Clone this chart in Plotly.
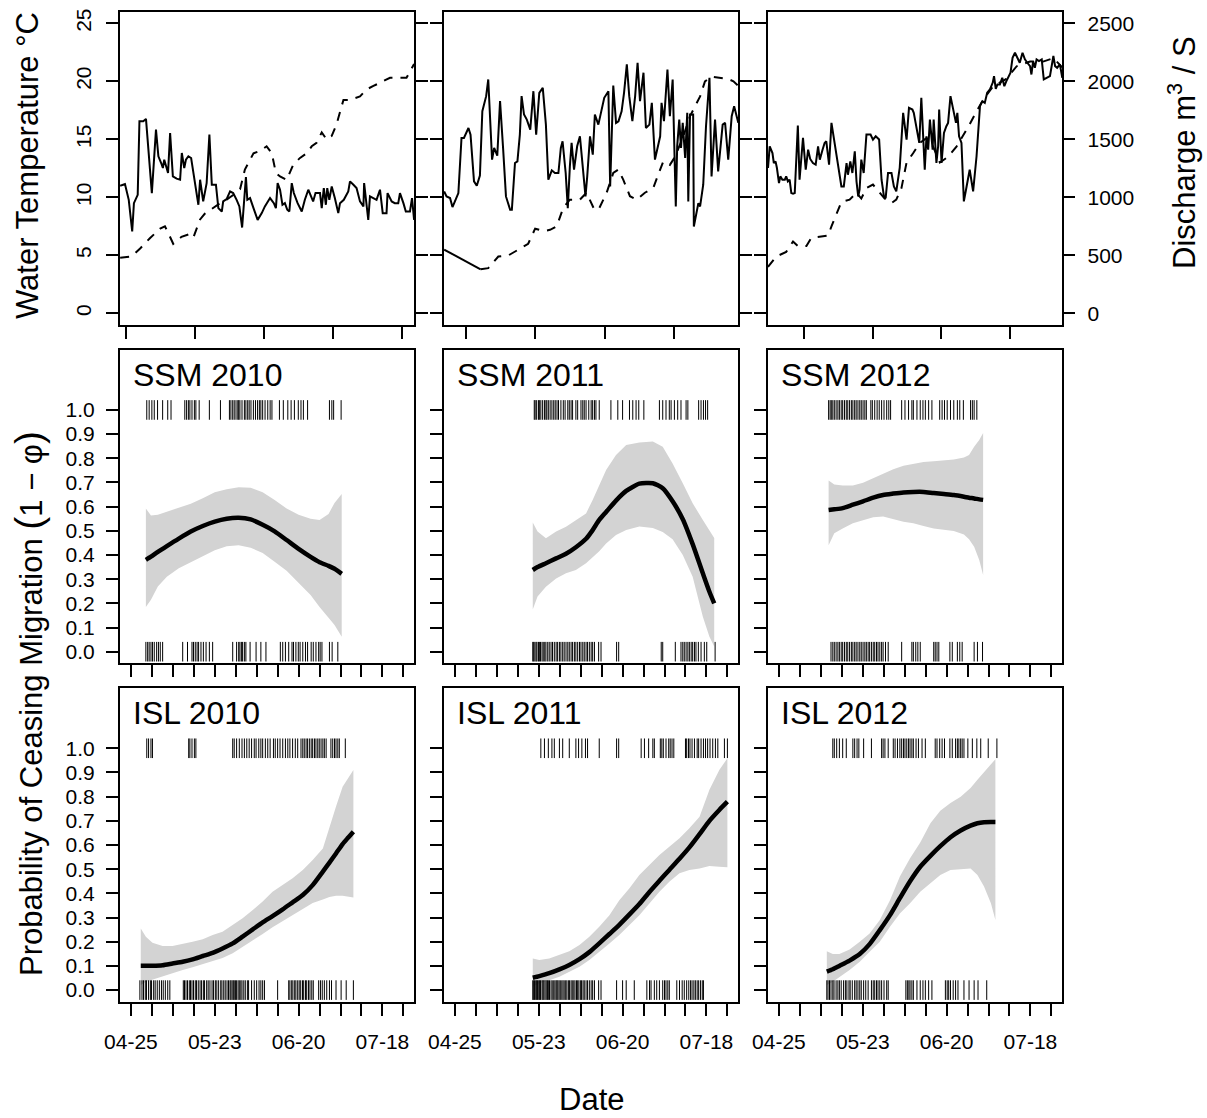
import plotly.graph_objects as go

# ------------------------------------------------------------------ data
# Top row: (day of year, value) pairs
temp_2010 = [(118.3, 4.8), (121.6, 4.9), (124.1, 5.6), (127.0, 6.5), (129.9, 7.3), (131.3, 7.5),
             (132.3, 6.9), (133.7, 6.0), (136.1, 6.6), (138.1, 6.8), (139.5, 6.5), (141.5, 8.1),
             (142.9, 8.6), (145.3, 9.1), (147.3, 9.5), (149.2, 9.8), (151.1, 10.2), (153.1, 10.7),
             (154.5, 12.4), (157.0, 13.8), (158.9, 14.0), (160.8, 14.4), (162.3, 13.8), (163.5, 12.1),
             (164.7, 11.8), (166.6, 11.5), (168.5, 12.8), (170.5, 13.4), (172.4, 13.8), (173.9, 14.4),
             (175.3, 14.7), (176.8, 15.6), (178.2, 15.0), (179.7, 15.3), (181.1, 16.3), (183.1, 18.4),
             (185.0, 18.4), (187.9, 18.7), (189.8, 19.3), (191.8, 19.6), (194.7, 20.0), (196.6, 20.3),
             (199.5, 20.3), (201.4, 20.3), (203.6, 21.5)]
flow_2010 = [(118.3, 1100), (119.7, 1115), (120.8, 979), (121.8, 706), (122.3, 950), (123.4, 1022),
             (123.9, 1656), (125.0, 1656), (125.8, 1676), (127.5, 1037), (128.7, 1584), (129.4, 1354),
             (130.2, 1296), (130.7, 1253), (131.1, 1325), (131.6, 1267), (132.2, 1210), (132.8, 1555),
             (133.6, 1181), (134.7, 1161), (135.7, 1152), (136.2, 1382), (136.9, 1253), (137.4, 1325),
             (138.1, 1354), (138.9, 1339), (139.8, 1152), (141.0, 936), (141.5, 1152), (142.4, 965),
             (143.4, 1123), (144.2, 1541), (144.9, 1109), (146.1, 1109), (146.8, 907), (147.8, 878),
             (148.2, 965), (149.2, 985), (150.2, 1051), (151.1, 1037), (152.1, 979), (152.9, 922),
             (153.7, 740), (154.8, 1175), (155.2, 979), (156.0, 994), (157.0, 907), (158.2, 806),
             (159.4, 864), (160.3, 922), (161.8, 994), (162.9, 950), (163.5, 907), (164.0, 1123),
             (164.7, 1066), (165.4, 936), (166.1, 950), (166.8, 893), (167.4, 878), (168.1, 1123),
             (168.7, 1037), (169.8, 950), (171.0, 878), (171.9, 979), (172.9, 1066), (173.6, 1022),
             (174.3, 965), (175.0, 1037), (176.3, 1037), (176.8, 907), (177.4, 1080), (178.0, 936),
             (178.4, 1080), (179.0, 979), (179.7, 1094), (180.6, 994), (181.6, 864), (182.1, 950),
             (183.2, 979), (184.5, 1051), (185.0, 1138), (186.0, 1109), (186.9, 1080), (187.9, 965),
             (188.9, 922), (189.1, 1123), (189.8, 922), (190.3, 806), (190.8, 1008), (191.8, 994),
             (192.7, 979), (193.7, 1066), (194.5, 864), (195.6, 864), (195.9, 1037), (197.1, 965),
             (198.0, 950), (199.0, 950), (199.5, 1037), (200.5, 950), (201.2, 878), (202.4, 878),
             (203.0, 994), (203.6, 806)]
temp_2011 = [(133.8, 5.5), (144.3, 3.8), (146.5, 3.9), (149.4, 4.9), (152.3, 5.0), (155.2, 5.5),
             (158.0, 6.0), (160.0, 7.3), (162.4, 7.1), (164.3, 7.2), (166.2, 7.5), (168.1, 9.1),
             (170.0, 9.8), (172.9, 9.8), (174.8, 10.4), (176.8, 9.1), (178.2, 8.9), (180.6, 10.4),
             (182.5, 12.1), (184.0, 12.4), (185.4, 11.5), (187.3, 10.1), (189.2, 9.8), (191.6, 10.4),
             (194.0, 10.8), (195.5, 12.0), (196.9, 13.1), (198.8, 12.8), (200.3, 13.5), (202.7, 15.3),
             (204.6, 17.0), (207.5, 18.7), (208.9, 20.0), (210.8, 20.4), (213.2, 20.3), (215.6, 20.2),
             (217.1, 20.0), (218.5, 19.6)]
flow_2011 = [(133.8, 1051), (134.5, 1008), (135.5, 994), (136.2, 916), (136.9, 965), (137.9, 1037),
             (138.8, 1512), (139.5, 1512), (140.8, 1598), (141.4, 1541), (142.4, 1138), (143.2, 1100),
             (144.1, 1187), (144.8, 1742), (145.9, 1872), (146.5, 2016), (147.6, 1325), (148.2, 1426),
             (149.1, 1359), (149.9, 1829), (150.8, 1411), (151.6, 1008), (152.8, 893), (153.3, 893),
             (154.2, 1296), (154.9, 1310), (155.6, 1541), (156.1, 1872), (156.8, 1714), (157.6, 1670),
             (158.6, 1584), (159.5, 1915), (160.3, 1541), (161.2, 1901), (162.2, 1944), (163.1, 1627),
             (163.8, 1152), (164.8, 1233), (165.7, 1210), (166.7, 1210), (167.4, 1426), (167.9, 1483),
             (168.8, 1210), (169.4, 907), (170.0, 1267), (170.5, 1469), (171.2, 1238), (172.1, 1440),
             (172.9, 1526), (173.7, 1238), (174.5, 1008), (175.0, 1181), (175.8, 1526), (176.6, 1368),
             (177.2, 1714), (178.2, 1627), (179.0, 1728), (179.9, 1858), (181.1, 1915), (181.6, 1094),
             (182.5, 1964), (183.3, 1642), (184.0, 1656), (184.9, 1742), (185.6, 1901), (186.4, 2146),
             (187.1, 1872), (188.0, 1656), (188.8, 1872), (189.5, 2160), (190.2, 1829), (191.2, 2074),
             (191.9, 1598), (192.9, 1627), (193.6, 1814), (194.5, 1325), (196.0, 1526), (196.4, 1814),
             (197.1, 1656), (198.1, 2102), (198.8, 1699), (199.6, 2016), (200.5, 922), (200.9, 1440),
             (201.5, 1670), (202.0, 1426), (202.5, 1642), (203.2, 1339), (203.8, 1728), (204.1, 965),
             (204.6, 1714), (205.5, 1714), (205.7, 749), (207.0, 950), (207.5, 922), (208.4, 1109),
             (209.2, 1613), (210.2, 2030), (210.8, 1181), (211.8, 1670), (212.7, 1224), (214.0, 1627),
             (214.7, 1642), (215.6, 1325), (216.6, 1699), (217.3, 1786), (218.5, 1642)]
temp_2012 = [(129.5, 4.0), (131.9, 4.9), (134.8, 5.3), (136.8, 6.2), (138.2, 5.8), (140.7, 5.8),
             (142.1, 6.5), (144.6, 6.6), (147.0, 6.7), (148.0, 7.5), (149.4, 8.6), (150.9, 9.6),
             (153.3, 9.8), (155.3, 10.4), (156.7, 9.9), (158.2, 10.8), (160.1, 11.1), (162.1, 10.4),
             (163.5, 9.9), (165.5, 9.5), (166.9, 9.8), (168.4, 10.8), (169.9, 13.0), (171.8, 13.8),
             (173.8, 14.7), (175.7, 15.1), (177.6, 14.4), (179.6, 13.0), (182.0, 13.5), (184.5, 14.4),
             (186.4, 15.3), (188.3, 16.3), (190.3, 17.4), (192.2, 18.4), (195.2, 19.6), (199.0, 20.2),
             (202.0, 21.3), (205.9, 21.7), (209.7, 21.7), (212.7, 22.0), (215.3, 21.2)]
flow_2012_day = [129.5, 130.0, 130.8, 131.2, 131.7, 132.1, 132.7, 133.1, 133.7, 134.4,
                 134.8, 135.3, 135.8, 136.3, 136.8, 137.3, 138.2, 138.7, 139.7, 140.5,
                 141.2, 141.8, 142.6, 143.4, 144.1, 144.6, 145.4, 146.0, 146.5, 147.3,
                 148.0, 148.9, 149.9, 150.9, 151.6, 152.4, 152.8, 153.5, 154.1, 154.8,
                 155.3, 155.8, 156.2, 156.7, 157.4, 158.2, 159.4, 160.1, 160.9, 161.9,
                 162.6, 163.3, 163.8, 164.5, 165.5, 166.2, 166.9, 167.9, 168.9, 169.9,
                 170.6, 171.6, 172.0, 172.8, 173.6, 174.2, 174.7, 175.2, 175.7, 176.2,
                 176.7, 177.5, 177.8, 178.6, 179.1, 179.4, 180.1, 180.8, 181.5, 182.0,
                 182.7, 183.5, 184.3, 184.7, 185.2, 185.9, 186.6, 187.4, 188.3, 189.3,
                 190.3, 191.3, 192.0, 192.7, 193.4, 194.2, 195.0, 195.4, 195.9, 196.4,
                 197.1, 197.8, 198.4, 199.0, 199.5, 200.2, 200.8, 201.5, 202.2, 202.9,
                 203.7, 204.4, 205.1, 205.9, 206.3, 206.8, 207.3, 207.8, 208.5, 209.3,
                 209.9, 210.7, 211.7, 212.7, 213.2, 213.8, 214.6, 215.3]
flow_2012_val = [1253, 1440, 1382, 1296, 1310, 1253, 1123, 1181, 1152, 1152,
                 1181, 1138, 1152, 1037, 1031, 1037, 1619, 1152, 1512, 1238,
                 1411, 1331, 1296, 1282, 1440, 1325, 1411, 1469, 1483, 1282,
                 1642, 1469, 1267, 1094, 1094, 1296, 1195, 1310, 1210, 1397,
                 1138, 1008, 1066, 1325, 1210, 1541, 1541, 1498, 1526, 1498,
                 1152, 1008, 994, 1210, 1210, 1094, 1051, 1253, 1728, 1498,
                 1771, 1757, 1728, 1584, 1469, 1858, 1555, 1238, 1526, 1411,
                 1670, 1411, 1670, 1296, 1440, 1757, 1296, 1555, 1613, 1642,
                 1872, 1757, 1642, 1728, 1526, 1469, 965, 1094, 1238, 1051,
                 1354, 1786, 1829, 1814, 1901, 1930, 1987, 2045, 1935, 1973,
                 1973, 2030, 1958, 2002, 2030, 2074, 2203, 2246, 2203, 2160,
                 2246, 2189, 2160, 2131, 2059, 2174, 2117, 2189, 2174, 2189,
                 2016, 2030, 2045, 2218, 2131, 2117, 2146, 2030]

# Model panels: days since 04-25, fitted probability and confidence band
ssm2010_d = [5.0, 6.7, 9, 12, 16, 20, 24, 28, 32, 36, 40, 44, 48, 52, 56, 60, 63, 66, 68, 70.4]
ssm2010_fit = [0.38, 0.393, 0.413, 0.437, 0.468, 0.497, 0.52, 0.538, 0.55, 0.554, 0.547, 0.525,
               0.498, 0.462, 0.425, 0.392, 0.37, 0.355, 0.343, 0.322]
ssm2010_hi = [0.592, 0.563, 0.567, 0.58, 0.595, 0.612, 0.635, 0.66, 0.672, 0.68, 0.678, 0.66,
              0.628, 0.592, 0.566, 0.55, 0.545, 0.57, 0.615, 0.652]
ssm2010_lo = [0.185, 0.215, 0.27, 0.31, 0.345, 0.37, 0.395, 0.42, 0.436, 0.44, 0.43, 0.408,
              0.372, 0.335, 0.286, 0.235, 0.185, 0.14, 0.11, 0.062]

ssm2011_d = [26.0, 27.6, 30.4, 33.8, 37.1, 40.4, 43.8, 46.0, 48.2, 50.5, 53.8, 57.2, 61.6, 66.1,
             69.4, 72.7, 76.1, 79.4, 82.8, 85.0, 86.6]
ssm2011_fit = [0.338, 0.35, 0.366, 0.386, 0.405, 0.432, 0.467, 0.503, 0.545, 0.578, 0.625, 0.665,
               0.695, 0.697, 0.676, 0.622, 0.548, 0.445, 0.324, 0.248, 0.2]
ssm2011_hi = [0.534, 0.497, 0.469, 0.497, 0.517, 0.545, 0.572, 0.628, 0.69, 0.752, 0.814, 0.855,
              0.865, 0.869, 0.848, 0.779, 0.697, 0.614, 0.545, 0.5, 0.47]
ssm2011_lo = [0.175, 0.228, 0.269, 0.303, 0.324, 0.338, 0.366, 0.39, 0.415, 0.448, 0.483, 0.503,
              0.518, 0.512, 0.495, 0.465, 0.4, 0.31, 0.145, 0.062, 0.021]

ssm2012_d = [16.6, 18.5, 21.3, 24.7, 28.1, 31.5, 34.8, 38.2, 41.6, 44.9, 48.3, 51.7, 55.1, 58.4,
             61.8, 63.5, 65.2, 66.9, 68.2]
ssm2012_fit = [0.586, 0.589, 0.594, 0.608, 0.622, 0.637, 0.648, 0.654, 0.659, 0.661, 0.661, 0.656,
               0.652, 0.648, 0.641, 0.637, 0.634, 0.63, 0.628]
ssm2012_hi = [0.708, 0.692, 0.687, 0.688, 0.699, 0.717, 0.735, 0.755, 0.769, 0.778, 0.785, 0.788,
              0.79, 0.795, 0.803, 0.814, 0.848, 0.876, 0.905]
ssm2012_lo = [0.44, 0.49, 0.51, 0.531, 0.545, 0.556, 0.559, 0.548, 0.538, 0.531, 0.52, 0.51,
              0.505, 0.499, 0.485, 0.465, 0.434, 0.379, 0.317]

isl2010_d = [3.3, 5.0, 7.2, 10.6, 13.9, 17.3, 20.6, 24.0, 27.3, 30.6, 34.0, 37.3, 40.7, 44.0, 47.3,
             50.7, 54.0, 57.4, 60.7, 64.1, 66.3, 68.5, 70.7, 72.5, 74.3]
isl2010_fit = [0.101, 0.101, 0.101, 0.103, 0.11, 0.117, 0.127, 0.141, 0.154, 0.172, 0.193, 0.221,
               0.251, 0.28, 0.306, 0.334, 0.363, 0.393, 0.434, 0.49, 0.527, 0.565, 0.604, 0.63, 0.655]
isl2010_hi = [0.255, 0.221, 0.196, 0.182, 0.182, 0.19, 0.2, 0.21, 0.228, 0.241, 0.269, 0.297,
              0.331, 0.366, 0.407, 0.434, 0.462, 0.497, 0.538, 0.586, 0.676, 0.759, 0.841, 0.875, 0.91]
isl2010_lo = [0.021, 0.034, 0.043, 0.057, 0.07, 0.083, 0.094, 0.106, 0.12, 0.133, 0.152, 0.177,
              0.205, 0.232, 0.26, 0.288, 0.31, 0.335, 0.36, 0.375, 0.385, 0.39, 0.39, 0.386, 0.383]

isl2011_d = [26.0, 28.2, 31.5, 34.9, 38.2, 41.6, 44.9, 48.2, 51.6, 54.9, 58.3, 61.6, 64.9, 68.3,
             71.6, 75.0, 78.3, 81.7, 85.0, 88.3, 91.0]
isl2011_fit = [0.051, 0.058, 0.07, 0.086, 0.104, 0.128, 0.157, 0.193, 0.232, 0.27, 0.313, 0.356,
               0.405, 0.452, 0.497, 0.543, 0.59, 0.645, 0.7, 0.745, 0.779]
isl2011_hi = [0.131, 0.124, 0.131, 0.145, 0.161, 0.186, 0.221, 0.262, 0.31, 0.372, 0.421, 0.476,
              0.517, 0.559, 0.593, 0.628, 0.669, 0.717, 0.828, 0.91, 0.959]
isl2011_lo = [0.014, 0.028, 0.041, 0.055, 0.076, 0.097, 0.124, 0.159, 0.193, 0.228, 0.269, 0.31,
              0.359, 0.407, 0.448, 0.483, 0.497, 0.503, 0.513, 0.51, 0.508]

isl2012_d = [16.0, 18.0, 20.2, 23.6, 27.0, 30.3, 33.7, 37.1, 40.4, 43.8, 47.2, 50.6, 53.9, 57.3,
             60.7, 64.0, 66.3, 68.5, 70.8, 72.3]
isl2012_fit = [0.076, 0.086, 0.1, 0.122, 0.149, 0.19, 0.248, 0.31, 0.38, 0.45, 0.51, 0.555, 0.595,
               0.632, 0.66, 0.68, 0.69, 0.694, 0.695, 0.695]
isl2012_hi = [0.161, 0.149, 0.149, 0.168, 0.2, 0.234, 0.29, 0.372, 0.47, 0.545, 0.61, 0.69, 0.742,
              0.774, 0.8, 0.836, 0.87, 0.9, 0.935, 0.955]
isl2012_lo = [0.021, 0.034, 0.052, 0.083, 0.117, 0.159, 0.2, 0.262, 0.317, 0.359, 0.407, 0.441,
              0.476, 0.497, 0.5, 0.503, 0.476, 0.428, 0.359, 0.29]

# Individual fish: day of ceasing (outcome 1) or continuing (outcome 0)
ssm2010_ceased = [5.3, 6.1, 7.0, 7.8, 8.9, 10.6, 12.3, 13.4, 18.0, 18.6, 19.2, 19.7, 20.4, 21.2, 21.7,
                  22.8, 26.2, 29.9, 32.9, 33.4, 34.0, 34.5, 35.1, 35.7, 36.0, 36.4, 37.1, 37.9, 38.4,
                  39.0, 39.5, 40.1, 40.9, 41.6, 42.3, 42.9, 43.4, 44.0, 44.8, 45.7, 46.5, 47.1, 49.6,
                  50.9, 52.4, 53.5, 54.6, 55.9, 56.8, 57.6, 59.0, 66.3, 67.1, 67.7, 70.2]
ssm2010_moved = [5.0, 5.6, 6.1, 6.7, 7.2, 7.8, 8.6, 9.2, 9.8, 10.6, 17.3, 18.9, 20.4, 20.9, 21.5, 22.1,
                 22.6, 23.4, 24.2, 25.1, 26.2, 27.3, 34.0, 35.3, 36.0, 36.4, 36.9, 37.3, 37.9, 38.4,
                 39.8, 41.8, 43.4, 45.1, 49.9, 50.7, 51.6, 52.7, 53.8, 54.3, 55.1, 55.9, 56.5, 57.4,
                 58.3, 59.0, 60.2, 60.9, 61.8, 62.7, 63.2, 63.8, 66.3, 67.2, 69.1]
ssm2011_ceased = [26.5, 26.8, 27.3, 27.9, 28.2, 28.7, 29.3, 29.9, 30.4, 30.7, 31.2, 31.8, 32.4, 33.0,
                  33.5, 34.1, 34.6, 35.4, 36.2, 36.8, 37.7, 38.2, 38.8, 39.3, 40.4, 41.0, 42.1, 42.7,
                  43.2, 43.8, 44.7, 45.5, 46.0, 46.6, 47.1, 48.2, 52.1, 54.4, 56.0, 58.3, 59.4, 60.5,
                  61.4, 63.1, 68.3, 69.4, 70.5, 71.6, 72.2, 73.3, 74.4, 75.5, 77.2, 77.8, 81.4, 82.2,
                  83.0, 83.7, 84.4]
ssm2011_moved = [26.0, 26.3, 26.7, 27.1, 27.4, 27.9, 28.2, 28.6, 29.1, 29.5, 30.0, 30.4, 31.0, 31.5,
                 32.1, 32.6, 33.2, 33.8, 34.3, 34.9, 35.4, 36.0, 36.5, 37.1, 37.7, 38.2, 38.8, 39.3,
                 39.9, 40.4, 41.0, 41.6, 42.1, 42.7, 43.2, 43.8, 44.3, 44.9, 45.5, 46.0, 46.6, 48.0,
                 48.8, 54.0, 54.7, 68.9, 69.4, 73.6, 75.5, 76.1, 76.6, 77.2, 77.8, 78.3, 78.9, 79.4,
                 80.0, 80.5, 81.3, 82.2, 83.3, 84.1, 86.9]
ssm2012_ceased = [16.6, 17.1, 17.5, 18.0, 18.5, 19.1, 19.7, 20.2, 20.8, 21.3, 21.9, 22.5, 23.0, 23.6,
                  24.2, 24.7, 25.3, 25.8, 26.4, 27.0, 27.5, 28.1, 28.7, 29.2, 30.7, 31.2, 32.0, 32.8,
                  33.5, 34.3, 35.1, 36.0, 36.7, 37.3, 41.0, 42.1, 43.3, 44.4, 44.9, 46.1, 47.2, 48.1,
                  48.9, 50.0, 51.1, 53.7, 54.5, 55.3, 56.2, 57.3, 58.4, 59.6, 60.4, 61.6, 64.0, 64.6,
                  65.2, 66.1]
ssm2012_moved = [17.4, 18.0, 18.5, 19.1, 19.7, 20.2, 20.8, 21.3, 21.9, 22.5, 23.0, 23.6, 24.2, 24.7,
                 25.3, 25.8, 26.4, 27.0, 27.5, 28.1, 28.7, 29.2, 29.8, 30.3, 30.9, 31.5, 32.0, 32.6,
                 33.1, 33.7, 34.3, 34.8, 35.6, 36.5, 41.0, 44.4, 44.9, 45.7, 46.4, 47.2, 51.7, 52.2,
                 52.8, 53.4, 57.1, 57.9, 59.6, 60.4, 61.2, 65.2, 66.3, 68.0]
isl2010_ceased = [5.3, 5.9, 6.7, 7.2, 19.3, 19.7, 20.4, 21.2, 21.7, 34.0, 34.5, 35.3, 36.2, 37.1, 37.9,
                  38.7, 39.5, 40.3, 41.2, 41.8, 42.7, 43.4, 44.0, 44.9, 45.7, 46.5, 47.6, 48.2, 49.0,
                  49.8, 50.7, 51.6, 52.4, 53.1, 54.0, 54.9, 55.7, 56.8, 57.4, 57.9, 58.5, 59.0, 59.6,
                  60.2, 60.7, 61.3, 61.8, 62.4, 62.9, 63.5, 64.1, 64.6, 65.2, 66.8, 67.4, 68.0, 68.5,
                  69.1, 69.6, 71.6]
isl2010_moved = [3.0, 3.7, 4.2, 4.8, 5.2, 5.9, 6.5, 6.9, 7.6, 8.1, 8.8, 9.5, 10.2, 10.8, 11.5, 12.3,
                 13.0, 17.5, 17.9, 18.4, 18.9, 19.5, 19.9, 20.4, 20.9, 21.5, 21.9, 22.5, 23.1, 23.6,
                 24.2, 24.6, 25.3, 25.8, 26.4, 27.1, 27.6, 28.2, 28.7, 29.3, 30.0, 30.4, 31.0, 31.5,
                 32.1, 32.6, 33.1, 33.4, 33.8, 34.2, 34.5, 34.9, 35.3, 35.8, 36.2, 36.7, 37.1, 37.7,
                 38.2, 38.9, 39.3, 40.3, 41.2, 42.0, 42.8, 43.4, 44.0, 44.6, 49.0, 52.7, 53.1, 53.7,
                 54.1, 54.7, 55.1, 55.7, 56.2, 56.7, 57.3, 57.7, 58.3, 58.7, 59.3, 59.8, 60.4, 60.9,
                 62.7, 63.3, 63.9, 64.6, 65.4, 66.3, 67.0, 68.5, 70.2, 71.9, 74.3]
isl2011_ceased = [28.7, 29.9, 31.2, 32.4, 33.2, 34.9, 36.0, 38.2, 40.4, 41.3, 42.4, 43.6, 44.3, 48.2,
                  54.0, 54.7, 62.2, 63.3, 64.7, 66.1, 66.6, 68.6, 69.1, 69.6, 70.5, 71.4, 71.9, 72.5,
                  73.1, 77.0, 77.4, 78.0, 78.5, 79.2, 80.0, 80.9, 81.4, 82.2, 83.0, 83.7, 84.4, 85.2,
                  86.1, 87.0, 87.8, 90.0, 91.0]
isl2011_moved = [26.0, 26.3, 26.6, 27.0, 27.3, 27.6, 28.0, 28.3, 28.6, 29.1, 29.4, 29.7, 30.1, 30.5,
                 30.9, 31.2, 31.6, 32.1, 32.5, 33.0, 33.4, 33.8, 34.1, 34.4, 34.8, 35.2, 35.7, 36.1,
                 36.5, 37.0, 37.4, 37.9, 38.3, 38.8, 39.2, 39.7, 40.1, 40.6, 41.0, 41.4, 41.9, 42.3,
                 42.8, 43.2, 43.8, 44.3, 44.9, 45.5, 46.0, 46.6, 48.0, 48.8, 54.0, 56.0, 57.2, 59.9,
                 64.1, 65.0, 65.5, 66.6, 67.4, 68.3, 69.4, 70.0, 70.5, 71.1, 71.6, 74.1, 75.0, 75.9,
                 76.6, 77.4, 78.1, 78.7, 79.2, 79.8, 80.3, 80.9, 81.4, 82.0, 82.6, 83.0]
isl2012_ceased = [18.0, 18.5, 19.3, 20.2, 21.3, 22.5, 24.7, 25.3, 26.1, 26.7, 28.3, 30.9, 34.3, 34.8,
                  35.4, 36.5, 38.2, 38.8, 39.6, 40.4, 41.0, 41.6, 42.1, 42.7, 43.3, 43.8, 44.4, 44.9,
                  45.8, 46.6, 47.8, 48.9, 52.2, 52.8, 53.7, 54.5, 55.3, 57.1, 57.9, 59.0, 59.6, 60.1,
                  60.7, 61.2, 61.8, 63.1, 64.6, 66.1, 67.4, 69.9, 72.8]
isl2012_moved = [16.0, 16.4, 16.9, 17.4, 18.0, 18.4, 19.1, 19.7, 20.2, 20.8, 21.6, 22.2, 22.7, 23.4,
                 23.8, 24.5, 25.3, 25.8, 26.4, 27.0, 27.5, 28.3, 29.0, 29.8, 30.9, 31.5, 32.0, 32.6,
                 33.1, 33.7, 34.3, 35.1, 36.0, 36.5, 42.4, 42.9, 43.4, 43.8, 44.4, 44.9, 46.1, 47.2,
                 48.1, 48.9, 50.0, 51.1, 55.6, 56.2, 56.7, 57.3, 58.2, 59.0, 59.8, 61.8, 63.5, 65.2,
                 66.5, 69.4]

panel_labels = ["SSM 2010", "SSM 2011", "SSM 2012", "ISL 2010", "ISL 2011", "ISL 2012"]
date_ticks = [0, 7, 14, 21, 28, 35, 42, 49, 56, 63, 70, 77, 84, 91]
date_text = ["04-25", "", "", "", "05-23", "", "", "", "06-20", "", "", "", "07-18", ""]
prob_ticks = [0.0, 0.1, 0.2, 0.3, 0.4, 0.5, 0.6, 0.7, 0.8, 0.9, 1.0]
prob_text = ["0.0", "0.1", "0.2", "0.3", "0.4", "0.5", "0.6", "0.7", "0.8", "0.9", "1.0"]
temp_ticks = [0, 5, 10, 15, 20, 25]
flow_ticks = [0, 500, 1000, 1500, 2000, 2500]

# ------------------------------------------------------------------ layout helpers
W, H = 1207, 1118
FONT = "Liberation Sans, Arial, sans-serif"
COLS = [(120.0, 414.3), (444.0, 738.3), (768.0, 1062.3)]
ROWS = [(11.7, 325.0), (350.0, 663.3), (688.3, 1001.7)]


def xdom(c):
    return [COLS[c][0] / W, COLS[c][1] / W]


def ydom(r):
    return [1 - ROWS[r][1] / H, 1 - ROWS[r][0] / H]


def ref(letter, n):
    return letter if n == 1 else f"{letter}{n}"


def key(letter, n):
    return f"{letter}axis" if n == 1 else f"{letter}axis{n}"


tickfont = dict(family=FONT, size=21, color="black")
base_axis = dict(showgrid=False, zeroline=False, showline=True, linecolor="black", linewidth=2,
                 ticks="outside", ticklen=12, tickwidth=2, tickcolor="black", tickfont=tickfont,
                 automargin=False)

fig = go.Figure()
layout = {}

# ------------------------------------------------------------------ top row
top_xrange = [[118.26, 203.66], [133.76, 218.5], [129.5, 215.3]]
top_xticks = [[120, 140, 160, 180, 200], [140, 160, 180, 200], [140, 160, 180, 200]]
temps = [temp_2010, temp_2011, temp_2012]
flows = [flow_2010, flow_2011, list(zip(flow_2012_day, flow_2012_val))]

for c in range(3):
    xn = c + 1
    yt = 2 * c + 1
    yq = 2 * c + 2
    layout[key("x", xn)] = dict(base_axis, domain=xdom(c), anchor=ref("y", yt), range=top_xrange[c],
                                tickvals=top_xticks[c], showticklabels=False, mirror=True)
    layout[key("y", yt)] = dict(base_axis, domain=ydom(0), anchor=ref("x", xn), range=[-1, 26],
                                tickvals=temp_ticks, showticklabels=(c == 0), tickangle=-90,
                                ticklabelstandoff=7, mirror=("ticks" if c < 2 else True))
    layout[key("y", yq)] = dict(base_axis, domain=ydom(0), anchor=ref("x", xn), overlaying=ref("y", yt),
                                side="right", range=[-100, 2600], tickvals=flow_ticks,
                                showticklabels=(c == 2), showline=False,
                                ticks=("outside" if c == 2 else ""), ticklabelstandoff=8)
    t = temps[c]
    tx = [p[0] for p in t]
    ty = [p[1] for p in t]
    if c == 1:
        # first stretch drawn as a plain connecting segment
        fig.add_trace(go.Scatter(x=tx[:2], y=ty[:2], mode="lines", xaxis=ref("x", xn), yaxis=ref("y", yt),
                                 line=dict(color="black", width=2), showlegend=False))
        tx, ty = tx[1:], ty[1:]
    fig.add_trace(go.Scatter(x=tx, y=ty, mode="lines", xaxis=ref("x", xn), yaxis=ref("y", yt),
                             line=dict(color="black", width=2, dash="9px,8px"), showlegend=False))
    f = flows[c]
    fig.add_trace(go.Scatter(x=[p[0] for p in f], y=[p[1] for p in f], mode="lines",
                             xaxis=ref("x", xn), yaxis=ref("y", yq),
                             line=dict(color="black", width=2), showlegend=False))

# ------------------------------------------------------------------ model panels
models = [
    (ssm2010_d, ssm2010_fit, ssm2010_lo, ssm2010_hi, ssm2010_ceased, ssm2010_moved),
    (ssm2011_d, ssm2011_fit, ssm2011_lo, ssm2011_hi, ssm2011_ceased, ssm2011_moved),
    (ssm2012_d, ssm2012_fit, ssm2012_lo, ssm2012_hi, ssm2012_ceased, ssm2012_moved),
    (isl2010_d, isl2010_fit, isl2010_lo, isl2010_hi, isl2010_ceased, isl2010_moved),
    (isl2011_d, isl2011_fit, isl2011_lo, isl2011_hi, isl2011_ceased, isl2011_moved),
    (isl2012_d, isl2012_fit, isl2012_lo, isl2012_hi, isl2012_ceased, isl2012_moved),
]

annotations = []
for i, (d, fit, lo, hi, ceased, moved) in enumerate(models):
    r = 1 + i // 3
    c = i % 3
    xn = 4 + i
    yn = 7 + i
    layout[key("x", xn)] = dict(base_axis, domain=xdom(c), anchor=ref("y", yn), range=[-3.64, 94.64],
                                tickvals=date_ticks, ticktext=date_text, showticklabels=(r == 2),
                                ticklabelstandoff=8, mirror=True)
    layout[key("y", yn)] = dict(base_axis, domain=ydom(r), anchor=ref("x", xn), range=[-0.048, 1.248],
                                tickvals=prob_ticks, ticktext=prob_text, showticklabels=(c == 0),
                                ticklabelstandoff=7, mirror=True)
    xr, yr = ref("x", xn), ref("y", yn)
    fig.add_trace(go.Scatter(x=list(d) + list(d)[::-1], y=list(hi) + list(lo)[::-1], mode="lines",
                             fill="toself", fillcolor="#D3D3D3", line=dict(width=0, color="#D3D3D3"),
                             xaxis=xr, yaxis=yr, showlegend=False, hoverinfo="skip"))
    fig.add_trace(go.Scatter(x=d, y=fit, mode="lines", line=dict(color="black", width=4.5, shape="spline",
                                                                smoothing=0.6),
                             xaxis=xr, yaxis=yr, showlegend=False))
    rug = dict(symbol="line-ns", size=14, color="black", line=dict(width=1, color="black"))
    fig.add_trace(go.Scatter(x=ceased, y=[1.0] * len(ceased), mode="markers", marker=rug,
                             xaxis=xr, yaxis=yr, showlegend=False))
    fig.add_trace(go.Scatter(x=moved, y=[0.0] * len(moved), mode="markers", marker=rug,
                             xaxis=xr, yaxis=yr, showlegend=False))
    annotations.append(dict(text=panel_labels[i], xref="paper", yref="paper",
                            x=(COLS[c][0] + 11) / W, y=1 - (ROWS[r][0] + 25) / H,
                            xanchor="left", yanchor="middle", showarrow=False,
                            font=dict(family=FONT, size=32, color="black")))

title_font = dict(family=FONT, size=31, color="black")
big = "<span style='font-size:39px'>"
annotations += [
    dict(text="Water Temperature °C", x=28 / W, y=1 - 166 / H, textangle=-90),
    dict(text=f"Probability of Ceasing Migration {big}(</span>1 − φ{big})</span>",
         x=28 / W, y=1 - 704 / H, textangle=-90),
    dict(text="Discharge m<sup>3</sup> / S", x=1182 / W, y=1 - 153 / H, textangle=-90),
    dict(text="Date", x=591 / W, y=1 - 1099 / H, textangle=0),
]
for a in annotations[-4:]:
    a.update(xref="paper", yref="paper", xanchor="center", yanchor="middle", showarrow=False,
             font=title_font)

layout.update(width=W, height=H, margin=dict(l=0, r=0, t=0, b=0, autoexpand=False),
              paper_bgcolor="white", plot_bgcolor="white", showlegend=False, annotations=annotations,
              font=dict(family=FONT, color="black"))
fig.update_layout(**layout)
fig.write_html("out.html")
